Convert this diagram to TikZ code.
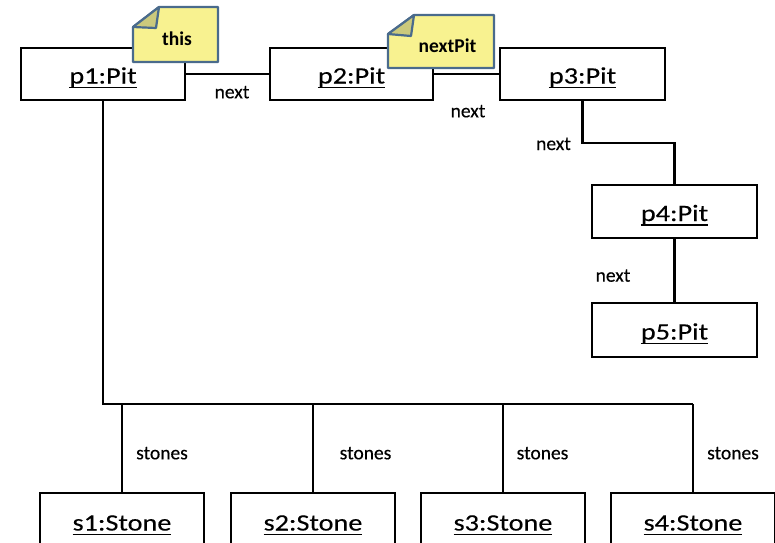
\documentclass[tikz,border=0pt]{standalone}
\usepackage{fontspec}
\setmainfont{Carlito}
\newfontfamily\boxfont[FakeStretch=1.2,FakeBold=0.2]{Carlito}
\newfontfamily\lblfont[FakeBold=0.3]{Carlito}
\newcommand\undl[1]{\setbox0=\hbox{#1}\rlap{\rule[-4.7pt]{\wd0}{1.5pt}}\box0}
\definecolor{notefill}{HTML}{F8F290}
\definecolor{notefold}{HTML}{CBC97C}
\definecolor{noteline}{HTML}{4A6B8C}
\begin{document}
\begin{tikzpicture}[x=1pt,y=-1pt,
  box/.style={draw, line width=2.8pt, fill=white, minimum width=164pt, minimum height=52pt,
    inner sep=0pt, font=\boxfont\fontsize{23.5}{27}\selectfont, text height=22pt, text depth=3pt},
  lbl/.style={anchor=base, font=\lblfont\fontsize{19.5}{23}\selectfont, inner sep=0pt},
  notelbl/.style={anchor=base, font=\bfseries\fontsize{19.5}{23}\selectfont, inner sep=0pt},
  conn/.style={line width=2.8pt},
  note/.style={draw=noteline, fill=notefill, line width=2.2pt, line join=round},
  fold/.style={draw=noteline, fill=notefold, line width=2.2pt, line join=round}]
\useasboundingbox (0,0) rectangle (775,542);
\clip (0,0) rectangle (775,542);

% boxes
\node[box] (p1) at (103,74) {\undl{p1:Pit}};
\node[box, minimum width=163pt] (p2) at (351.5,74) {\undl{p2:Pit}};
\node[box, minimum width=165pt] (p3) at (582.5,74) {\undl{p3:Pit}};
\node[box, minimum width=165pt, minimum height=53pt] (p4) at (674.5,211.5) {\undl{p4:Pit}};
\node[box, minimum width=165pt, minimum height=54pt] (p5) at (674.5,330) {\undl{p5:Pit}};
\node[box, minimum height=56pt] (s1) at (122,521) {\undl{s1:Stone}};
\node[box, minimum height=56pt] (s2) at (313,521) {\undl{s2:Stone}};
\node[box, minimum height=56pt] (s3) at (503,521) {\undl{s3:Stone}};
\node[box, minimum height=56pt] (s4) at (693,521) {\undl{s4:Stone}};

% connectors
\draw[conn] (p1.east) -- (p2.west);
\draw[conn] (p2.east) -- (p3.west);
\coordinate (k34) at (582.5,143);
\draw[conn] (p3.south) -- (k34) -| (p4.north);
\draw[conn] (p4.south) -- (p5.north);
\coordinate (bus) at (103,404);
\coordinate (busend) at (693,404);
\draw[conn] (p1.south) -- (bus) -- (busend);
\draw[conn] (bus -| s1.north) -- (s1.north);
\draw[conn] (bus -| s2.north) -- (s2.north);
\draw[conn] (bus -| s3.north) -- (s3.north);
\draw[conn] (busend) -- (s4.north);

% labels
\node[lbl] (n12) at (232,98.3) {next};
\node[lbl] (n23) at (468,117.3) {next};
\node[lbl] (n34) at (553.5,150) {next};
\node[lbl] (n45) at (613,281.7) {next};
\node[lbl] (st1) at (162,459.3) {stones};
\node[lbl] (st2) at (365.5,459.3) {stones};
\node[lbl] (st3) at (542.5,459.3) {stones};
\node[lbl] (st4) at (733,459.3) {stones};

% notes
\draw[note] (133,27) -- (159,7) -- (218,7) -- (218,62) -- (133,62) -- cycle;
\draw[fold] (133,27) -- (159,7) -- (156,28) -- cycle;
\node[notelbl] (thistext) at (177,45) {this};
\draw[note] (388,34) -- (414,15) -- (494,15) -- (494,68) -- (388,68) -- cycle;
\draw[fold] (388,34) -- (414,15) -- (411,36) -- cycle;
\node[notelbl] (nexttext) at (447.5,52.3) {nextPit};
\end{tikzpicture}
\end{document}
